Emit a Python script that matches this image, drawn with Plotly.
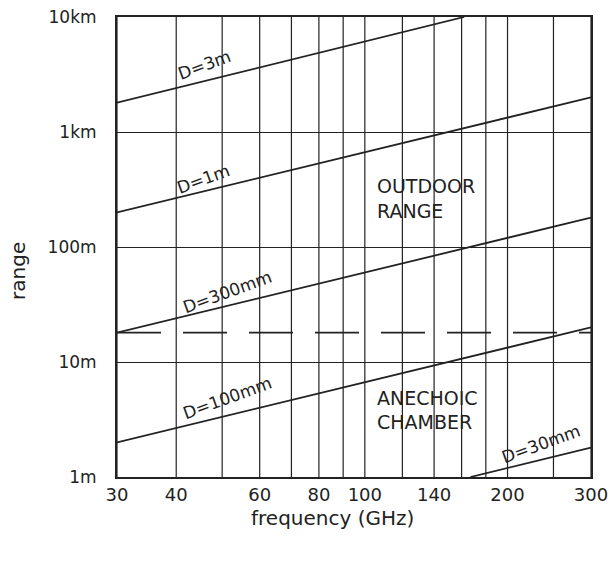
import math
import plotly.graph_objects as go

# Data (frequency in GHz, range in m)
freq_3m = [30, 162]
range_3m = [1800, 10000]
freq_1m = [30, 300]
range_1m = [200, 2000]
freq_300mm = [30, 300]
range_300mm = [18, 180]
freq_100mm = [30, 300]
range_100mm = [2, 20]
freq_30mm = [167, 300]
range_30mm = [1, 1.8]
chamber_limit_freq = [30, 300]
chamber_limit_range = [18, 18]

grid_freqs = [30, 40, 50, 60, 70, 80, 90, 100, 120, 140, 160, 180, 200, 250, 300]
x_tick_vals = [30, 40, 60, 80, 100, 140, 200, 300]
x_tick_text = ["30", "40", "60", "80", "100", "140", "200", "300"]
y_tick_vals = [1, 10, 100, 1000, 10000]
y_tick_text = ["1m", "10m", "100m", "1km", "10km"]

FONT = "DejaVu Sans"
INK = "#222222"

fig = go.Figure()
for fx, ry in [(freq_3m, range_3m), (freq_1m, range_1m), (freq_300mm, range_300mm),
               (freq_100mm, range_100mm), (freq_30mm, range_30mm)]:
    fig.add_trace(go.Scatter(x=fx, y=ry, mode="lines",
                             line=dict(color=INK, width=1.8), showlegend=False,
                             hoverinfo="skip"))
fig.add_trace(go.Scatter(x=chamber_limit_freq, y=chamber_limit_range, mode="lines",
                         line=dict(color=INK, width=1.8, dash="44px,22px"),
                         showlegend=False, hoverinfo="skip"))

# vertical grid lines
for f in grid_freqs:
    fig.add_shape(type="line", xref="x", yref="paper", x0=f, x1=f, y0=0, y1=1,
                  line=dict(color=INK, width=1.2), layer="below")

labels = [
    ("D=3m", 45.8, 3830),
    ("D=1m", 45.6, 390),
    ("D=300mm", 51.2, 40.6),
    ("D=100mm", 51.2, 4.86),
    ("D=30mm", 235, 1.94),
]
for txt, x, y in labels:
    fig.add_annotation(x=math.log10(x), y=math.log10(y), xref="x", yref="y",
                       text=txt, showarrow=False, textangle=-20,
                       font=dict(family=FONT, size=17, color=INK))

region_lines = [("OUTDOOR", 105, 339), ("RANGE", 105, 206),
                ("ANECHOIC", 105, 4.86), ("CHAMBER", 105, 3.01)]
for txt, x, y in region_lines:
    fig.add_annotation(x=math.log10(x), y=math.log10(y), xref="x", yref="y",
                       text=txt, showarrow=False, xanchor="left",
                       font=dict(family=FONT, size=19, color=INK))

# axis titles
fig.add_annotation(x=0.4536, y=0, xref="paper", yref="paper", yshift=-41,
                   xanchor="center", yanchor="middle",
                   text="frequency (GHz)", showarrow=False,
                   font=dict(family=FONT, size=20, color=INK))
fig.add_annotation(x=0, y=0.448, xref="paper", yref="paper", xshift=-99,
                   xanchor="center", yanchor="middle",
                   text="range", showarrow=False, textangle=-90,
                   font=dict(family=FONT, size=20, color=INK))

fig.update_xaxes(type="log", range=[math.log10(30), math.log10(300)],
                 tickvals=x_tick_vals, automargin=False,
                 ticktext=x_tick_text, showgrid=False, showline=True, mirror=True,
                 linecolor=INK, linewidth=2, ticks="", zeroline=False,
                 ticklabelstandoff=0, ticklabeloverflow="allow",
                 tickfont=dict(family=FONT, size=18, color=INK))
fig.update_yaxes(type="log", range=[0, 4], tickvals=y_tick_vals, ticktext=y_tick_text,
                 automargin=False,
                 showgrid=True, gridcolor=INK, gridwidth=1.2, showline=True, mirror=True,
                 linecolor=INK, linewidth=2, ticks="", zeroline=False,
                 ticklabelstandoff=15, ticklabeloverflow="allow",
                 tickfont=dict(family=FONT, size=17, color=INK))

fig.update_layout(width=610, height=561, margin=dict(l=117, r=19, t=17, b=84),
                  plot_bgcolor="white", paper_bgcolor="white")

fig.write_html("out.html", config={"displayModeBar": False},
               post_script="document.body.style.margin='0';document.body.style.overflow='hidden';")
